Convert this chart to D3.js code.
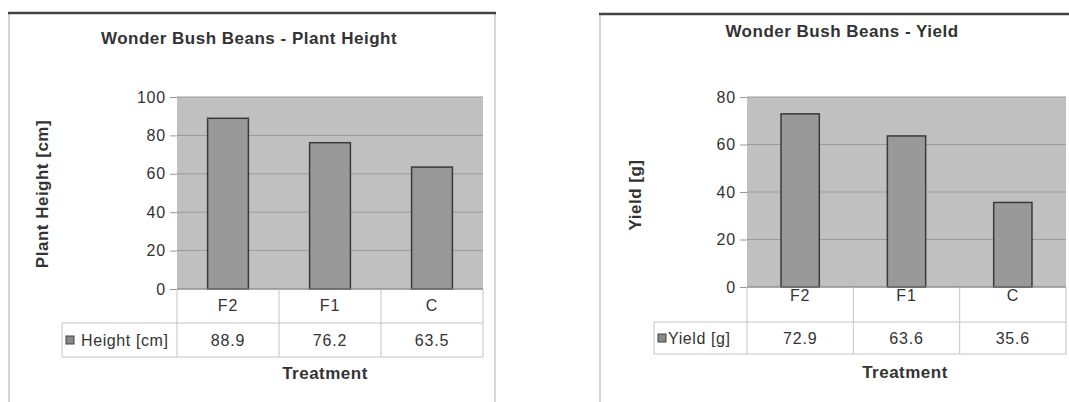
<!DOCTYPE html>
<html>
<head>
<meta charset="utf-8">
<script src="https://cdn.jsdelivr.net/npm/d3@7"></script>
<style>
  html, body { margin: 0; padding: 0; background: #fff; }
  svg { display: block; }
  text { font-family: "Liberation Sans", Arial, sans-serif; fill: #333; }
</style>
</head>
<body>
<svg id="chart" width="1069" height="402"></svg>
<script>
const categories = ["F2", "F1", "C"];
const heightValues = [88.9, 76.2, 63.5];
const yieldValues = [72.9, 63.6, 35.6];
const heightTicks = [0, 20, 40, 60, 80, 100];
const yieldTicks = [0, 20, 40, 60, 80];
const heightTitle = "Wonder Bush Beans - Plant Height";
const yieldTitle = "Wonder Bush Beans - Yield";
const heightAxisTitle = "Plant Height [cm]";
const yieldAxisTitle = "Yield [g]";
const heightSeries = "Height [cm]";
const yieldSeries = "Yield [g]";
const xAxisTitle = "Treatment";

const svg = d3.select("#chart");

function boldText(sel, size) {
  return sel.style("font-weight", "bold").style("font-size", size + "px").style("letter-spacing", "0.5px").attr("fill", "#222");
}
function plainText(sel) {
  return sel.style("font-size", "16px").style("letter-spacing", "0.8px").attr("fill", "#3c3c3c");
}

function drawChart(cfg) {
  const g = svg.append("g");
  // frame
  g.append("rect").attr("x", cfg.frame[0]).attr("y", cfg.frame[1])
    .attr("width", cfg.frame[2]).attr("height", cfg.frame[3])
    .attr("fill", "#fff").attr("stroke", "#c8c8c8").attr("stroke-width", 1.5);
  g.append("line").attr("x1", cfg.frame[0] - 1).attr("x2", cfg.frame[0] + cfg.frame[2] + 1)
    .attr("y1", cfg.frame[1]).attr("y2", cfg.frame[1])
    .attr("stroke", "#444").attr("stroke-width", 2.5);

  // title
  boldText(g.append("text").attr("x", cfg.titleX).attr("y", cfg.titleY)
    .attr("text-anchor", "middle"), 17).text(cfg.title);

  const x = d3.scaleBand().domain(categories).range([cfg.left, cfg.right]).paddingInner(0).paddingOuter(0);
  const y = d3.scaleLinear().domain(cfg.domain).range([cfg.bottom, cfg.top]);

  // plot bg
  g.append("rect").attr("x", cfg.left).attr("y", cfg.top)
    .attr("width", cfg.right - cfg.left).attr("height", cfg.bottom - cfg.top)
    .attr("fill", "#c0c0c0");

  // gridlines
  g.selectAll(".grid").data(cfg.ticks).enter().append("line")
    .attr("x1", cfg.left).attr("x2", cfg.right)
    .attr("y1", d => y(d)).attr("y2", d => y(d))
    .attr("stroke", "#9a9a9a").attr("stroke-width", 1);

  // y axis
  const yAxis = d3.axisLeft(y).tickValues(cfg.ticks).tickSize(7).tickPadding(4);
  const ya = g.append("g").attr("transform", `translate(${cfg.left},0)`).call(yAxis);
  ya.select(".domain").remove();
  ya.selectAll(".tick line").attr("stroke", "#999");
  plainText(ya.selectAll(".tick text").style("font-family", "Liberation Sans, Arial, sans-serif"));

  // bars
  const bw = x.bandwidth() * cfg.barRatio;
  g.selectAll(".bar").data(cfg.values).enter().append("rect")
    .attr("x", (d, i) => x(categories[i]) + (x.bandwidth() - bw) / 2)
    .attr("y", d => y(d))
    .attr("width", bw)
    .attr("height", d => y(cfg.domain[0]) - y(d))
    .attr("fill", "#999").attr("stroke", "#3a3a3a").attr("stroke-width", 1.5);

  // data table
  const tableTop = cfg.bottom, mid = tableTop + cfg.row1, bot = mid + cfg.row2;
  const tc = "#c4c4c4";
  g.append("line").attr("x1", cfg.left).attr("x2", cfg.right).attr("y1", tableTop).attr("y2", tableTop).attr("stroke", "#8a8a8a");
  g.append("line").attr("x1", cfg.legendLeft).attr("x2", cfg.right).attr("y1", mid).attr("y2", mid).attr("stroke", tc);
  g.append("line").attr("x1", cfg.legendLeft).attr("x2", cfg.right).attr("y1", bot).attr("y2", bot).attr("stroke", tc);
  const vx = categories.map(c => x(c)).concat([cfg.right]);
  g.selectAll(".vl").data(vx).enter().append("line")
    .attr("x1", d => d).attr("x2", d => d).attr("y1", tableTop).attr("y2", bot).attr("stroke", tc);
  g.append("line").attr("x1", cfg.legendLeft).attr("x2", cfg.legendLeft).attr("y1", mid).attr("y2", bot).attr("stroke", tc);

  // category labels
  plainText(g.selectAll(".cat").data(categories).enter().append("text")
    .attr("x", d => x(d) + x.bandwidth() / 2).attr("y", tableTop + cfg.catOffset)
    .attr("text-anchor", "middle").attr("dominant-baseline", "central")).text(d => d);
  // values
  plainText(g.selectAll(".val").data(cfg.values).enter().append("text")
    .attr("x", (d, i) => x(categories[i]) + x.bandwidth() / 2).attr("y", mid + cfg.valOffset)
    .attr("text-anchor", "middle").attr("dominant-baseline", "central")).text(d => d.toFixed(1));
  // legend key
  g.append("rect").attr("x", cfg.legendLeft + cfg.keyX).attr("y", mid + cfg.valOffset - 4)
    .attr("width", 8).attr("height", 8).attr("fill", "#888").attr("stroke", "#444").attr("stroke-width", 1);
  plainText(g.append("text").attr("x", cfg.legendLeft + cfg.textX).attr("y", mid + cfg.valOffset)
    .attr("dominant-baseline", "central")).style("letter-spacing", "0.6px").text(cfg.series);

  // x axis title
  boldText(g.append("text").attr("x", cfg.xTitleX).attr("y", cfg.xTitleY)
    .attr("text-anchor", "middle").attr("dominant-baseline", "central"), 17).text(xAxisTitle);

  // y axis title
  boldText(g.append("text").attr("transform", `translate(${cfg.yTitleX},${cfg.yTitleY}) rotate(-90)`)
    .attr("text-anchor", "middle").attr("dominant-baseline", "central"), 17).text(cfg.axisTitle);
}

drawChart({
  frame: [9, 13, 486, 400],
  title: heightTitle, titleX: 249, titleY: 44,
  left: 177, right: 483, top: 97, bottom: 289,
  domain: [0, 100], ticks: heightTicks, values: heightValues, barRatio: 0.4,
  row1: 34, row2: 34, catOffset: 16, valOffset: 17,
  legendLeft: 62, keyX: 4, textX: 19, series: heightSeries,
  xTitleX: 325, xTitleY: 373,
  yTitleX: 42, yTitleY: 194, axisTitle: heightAxisTitle
});

drawChart({
  frame: [600, 14, 480, 400],
  title: yieldTitle, titleX: 842, titleY: 37,
  left: 747, right: 1066, top: 97, bottom: 287,
  domain: [0, 80], ticks: yieldTicks, values: yieldValues, barRatio: 0.36,
  row1: 35, row2: 32, catOffset: 8, valOffset: 16,
  legendLeft: 654, keyX: 4, textX: 14, series: yieldSeries,
  xTitleX: 905, xTitleY: 372,
  yTitleX: 635, yTitleY: 195, axisTitle: yieldAxisTitle
});
</script>
</body>
</html>
